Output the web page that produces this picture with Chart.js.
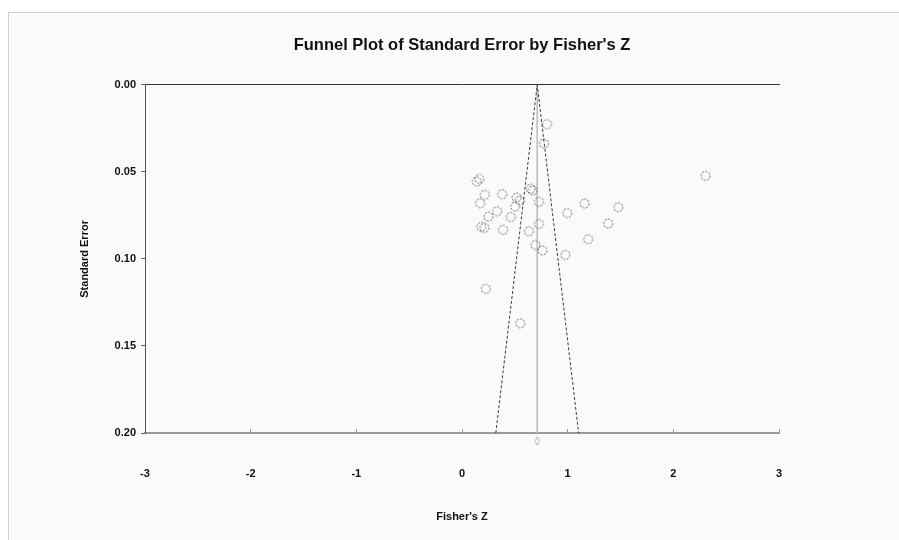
<!DOCTYPE html>
<html>
<head>
<meta charset="utf-8">
<script src="https://cdn.jsdelivr.net/npm/chart.js@4/dist/chart.umd.min.js"></script>
<style>
  html, body { margin: 0; padding: 0; background: #fff; }
  #wrap { position: relative; width: 899px; height: 540px; overflow: hidden; }
  #frame { position: absolute; left: 8px; top: 12px; width: 960px; height: 600px;
           border-left: 1px solid #cfcfcf; border-top: 1px solid #cfcfcf; background: #fafafa; }
  #funnel { position: absolute; left: 0; top: 0; }
</style>
</head>
<body>
<div id="wrap">
  <div id="frame"></div>
  <canvas id="funnel" width="899" height="540"></canvas>
</div>
<script>
// studies (Fisher's Z, standard error)
let fisherZ = [0.140, 0.164, 0.216, 0.380, 0.171, 0.516, 0.548, 0.503, 0.649, 0.668,
               0.728, 1.161, 1.479, 0.332, 0.250, 0.462, 0.997, 0.183, 0.212, 0.389,
               0.633, 0.728, 1.384, 1.194, 0.696, 0.763, 0.978, 0.225, 0.551, 0.804,
               0.776, 2.305]
let stdErr = [0.0556, 0.0540, 0.0632, 0.0628, 0.0680, 0.0648, 0.0665, 0.0699, 0.0596, 0.0607,
              0.0672, 0.0682, 0.0703, 0.0726, 0.0757, 0.0759, 0.0737, 0.0816, 0.0822, 0.0833,
              0.0841, 0.0799, 0.0797, 0.0887, 0.0920, 0.0952, 0.0977, 0.1172, 0.1370, 0.0226,
              0.0337, 0.0523]

let meanZ = 0.712
let funnelZ = [0.320, 0.712, 1.104]
let funnelSE = [0.20, 0.00, 0.20]
let meanLineSE = [0.00, 0.20]
let diamondSE = 0.2046

let xTickLabels = ['-3', '-2', '-1', '0', '1', '2', '3']
let yTickLabels = ['0.00', '0.05', '0.10', '0.15', '0.20']

// dashed open circle used as marker
function dashedCircle() {
  const c = document.createElement('canvas');
  c.width = 13; c.height = 13;
  const g = c.getContext('2d');
  g.setLineDash([2, 1.4]);
  g.strokeStyle = '#666';
  g.lineWidth = 1;
  g.beginPath();
  g.arc(6.5, 6.5, 4.5, 0, Math.PI * 2);
  g.stroke();
  return c;
}
function dashedDiamond() {
  const c = document.createElement('canvas');
  c.width = 7; c.height = 11;
  const g = c.getContext('2d');
  g.setLineDash([1.5, 1]);
  g.strokeStyle = '#777';
  g.lineWidth = 1;
  g.beginPath();
  g.moveTo(3.5, 1.5); g.lineTo(5.8, 5.5); g.lineTo(3.5, 9.5); g.lineTo(1.2, 5.5); g.closePath();
  g.stroke();
  return c;
}

const fontFam = '"Liberation Sans", Arial, sans-serif';
const ctx = document.getElementById('funnel');

let funnelChart = new Chart(ctx, {
  type: 'scatter',
  data: {
    datasets: [{
      label: 'studies',
      data: fisherZ.map((z, i) => ({ x: z, y: stdErr[i] })),
      pointStyle: dashedCircle(),
      pointRadius: 5
    }, {
      label: 'funnel',
      type: 'line',
      data: funnelZ.map((z, i) => ({ x: z, y: funnelSE[i] })),
      borderColor: '#3a3a3a',
      borderWidth: 1,
      borderDash: [3, 2],
      pointRadius: 0,
      fill: false
    }, {
      label: 'mean',
      type: 'line',
      data: meanLineSE.map(se => ({ x: meanZ, y: se })),
      borderColor: '#bdbdbd',
      borderWidth: 1,
      pointRadius: 0,
      fill: false
    }, {
      label: 'summary',
      data: [{ x: meanZ, y: diamondSE }],
      pointStyle: dashedDiamond(),
      pointRadius: 12, // only widens the in-area margin, the image sets the size
      clip: false
    }]
  },
  options: {
    responsive: false,
    animation: false,
    layout: { padding: { left: 25, right: 0, top: 0, bottom: 0 } },
    plugins: {
      legend: { display: false },
      tooltip: { enabled: false },
      title: {
        display: true,
        text: "Funnel Plot of Standard Error by Fisher's Z",
        color: '#111',
        font: { family: fontFam, size: 16.5, weight: 'bold' },
        padding: { top: 36, bottom: 29 }
      }
    },
    scales: {
      x: {
        type: 'linear', position: 'bottom', min: -3, max: 3,
        grid: { display: true, drawOnChartArea: false, drawTicks: true, tickLength: -4, tickColor: '#999' },
        border: { display: true, color: '#9a9a9a', width: 2 },
        ticks: {
          stepSize: 1, padding: 38, color: '#111',
          font: { family: fontFam, size: 11, weight: 'bold' },
          callback: v => xTickLabels[v + 3]
        },
        title: {
          display: true, text: "Fisher's Z", color: '#111',
          font: { family: fontFam, size: 11, weight: 'bold' },
          padding: { top: 0, bottom: 16 }
        },
        afterFit: s => { s.height = 107; }
      },
      x2: {
        type: 'linear', position: 'top', min: -3, max: 3,
        grid: { display: false, drawTicks: false },
        border: { display: true, color: '#333', width: 1 },
        ticks: { display: false },
        afterFit: s => { s.height = 0; }
      },
      y: {
        type: 'linear', position: 'left', min: 0, max: 0.2, reverse: true,
        grid: { display: true, drawOnChartArea: false, tickLength: 4, tickColor: '#666' },
        border: { display: true, color: '#555', width: 1 },
        ticks: {
          stepSize: 0.05, padding: 5, color: '#111',
          font: { family: fontFam, size: 11, weight: 'bold' },
          callback: v => yTickLabels[Math.round(v / 0.05)]
        },
        title: {
          display: true, text: 'Standard Error', color: '#111',
          font: { family: fontFam, size: 11, weight: 'bold' },
          padding: { top: 53, bottom: 0 }
        },
        afterFit: s => { s.width = 120; }
      },
      y2: {
        type: 'linear', position: 'right', min: 0, max: 1,
        grid: { display: false, drawTicks: false },
        border: { display: false },
        ticks: { display: false },
        afterFit: s => { s.width = 120; }
      }
    }
  }
});
</script>
</body>
</html>
